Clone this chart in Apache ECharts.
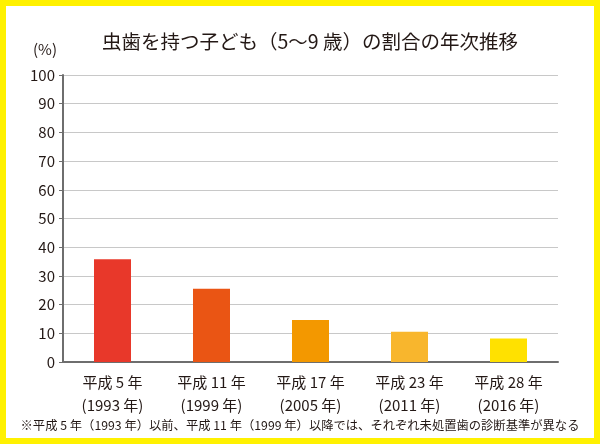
<!DOCTYPE html>
<html>
<head>
<meta charset="utf-8">
<script src="https://cdn.jsdelivr.net/npm/echarts@6/dist/echarts.min.js"></script>
<style>
html,body{margin:0;padding:0;background:#fff;}
#c{width:600px;height:444px;}
</style>
</head>
<body>
<div id="c"></div>
<script>
const categories = ['平成 5 年\n(1993 年)', '平成 11 年\n(1999 年)', '平成 17 年\n(2005 年)', '平成 23 年\n(2011 年)', '平成 28 年\n(2016 年)'];
const values = [35.8, 25.5, 14.6, 10.5, 8.2];
const barColors = ['#e8382a', '#ea5514', '#f39800', '#f8b62d', '#ffe100'];
const titleText = '虫歯を持つ子ども（5〜9 歳）の割合の年次推移';
const unitText = '(%)';
const noteText = '※平成 5 年（1993 年）以前、平成 11 年（1999 年）以降では、それぞれ未処置歯の診断基準が異なる';

const FONT = '"Noto Sans CJK JP", "Noto Sans", sans-serif';
const chart = echarts.init(document.getElementById('c'), null, {renderer: 'canvas'});
chart.setOption({
  animation: false,
  backgroundColor: '#fff',
  grid: {left: 63, right: 42, top: 75, bottom: 82, containLabel: false},
  xAxis: {
    type: 'category',
    data: categories,
    axisLine: {lineStyle: {color: '#6e6e6e', width: 2}},
    axisTick: {show: false},
    axisLabel: {fontFamily: FONT, fontSize: 15, color: '#231815', lineHeight: 23, margin: 9}
  },
  yAxis: {
    type: 'value',
    min: 0, max: 100, interval: 10,
    axisLine: {show: true, lineStyle: {color: '#6e6e6e', width: 2}},
    axisTick: {show: true, length: 4, lineStyle: {color: '#6e6e6e'}},
    splitLine: {lineStyle: {color: '#c8c8c8', width: 1}},
    axisLabel: {fontFamily: FONT, fontSize: 15, color: '#231815', margin: 8}
  },
  series: [{
    type: 'bar',
    barWidth: 37,
    data: values.map((v, i) => ({value: v, itemStyle: {color: barColors[i]}}))
  }],
  graphic: [
    {type: 'rect', shape: {x: 3, y: 3, width: 594, height: 438}, style: {fill: 'none', stroke: '#fff100', lineWidth: 6}, z: 100},
    {type: 'text', x: 310, y: 42, style: {text: titleText, font: '19.5px ' + FONT, fill: '#231815', textAlign: 'center', textVerticalAlign: 'middle'}},
    {type: 'text', x: 45, y: 49, style: {text: unitText, font: '15px ' + FONT, fill: '#231815', textAlign: 'center', textVerticalAlign: 'middle'}},
    {type: 'text', x: 300, y: 425, style: {text: noteText, font: '12.3px ' + FONT, fill: '#231815', textAlign: 'center', textVerticalAlign: 'middle'}}
  ]
});
</script>
</body>
</html>
